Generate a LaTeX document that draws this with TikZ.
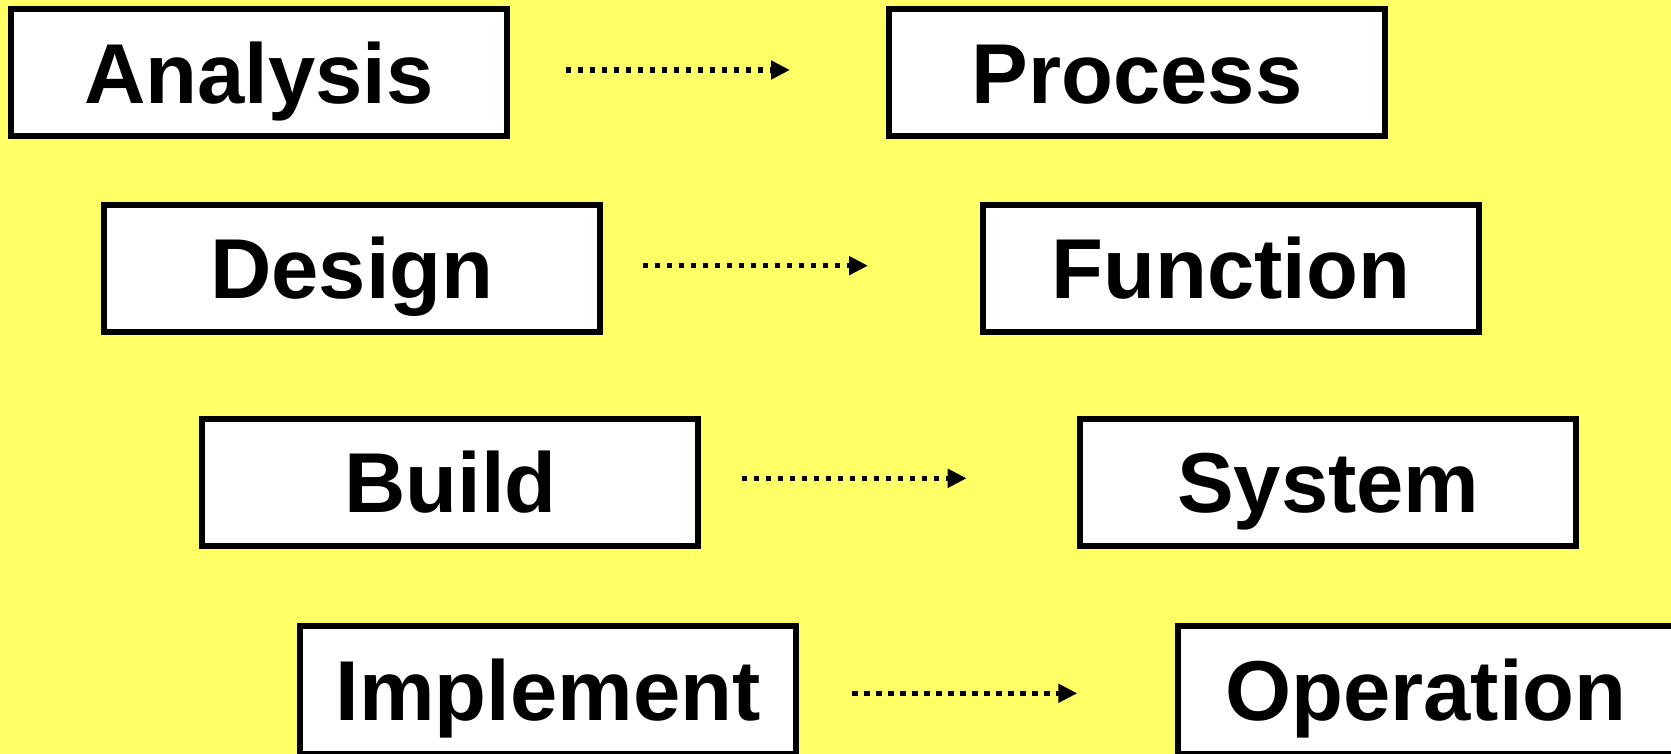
\documentclass[tikz,border=0pt]{standalone}
\usepackage{fontspec}
\setmainfont{Liberation Sans}
\usetikzlibrary{arrows.meta}
\definecolor{bgyellow}{HTML}{FFFF66}
\begin{document}
\begin{tikzpicture}[x=0.5pt,y=-0.5pt,
  stagebox/.style={draw=black, line width=3pt, fill=white, inner sep=0pt,
    minimum width=248pt, minimum height=63.75pt,
    font=\fontsize{42.5pt}{50pt}\selectfont\bfseries,
    text height=30.4pt, text depth=0pt},
  flow/.style={line width=2.6pt, dash pattern=on 2.6pt off 3.4pt,
    -{Triangle[length=9.5pt,width=9pt]}}]
  % canvas
  \fill[bgyellow] (0,0) rectangle (1671,754);
  \useasboundingbox (0,0) rectangle (1671,754);
  \clip (0,0) rectangle (1671,754);
  % left column
  \node[stagebox] (ana) at (259,72.7)   {Analysis};
  \node[stagebox] (des) at (352,268.3)  {Design};
  \node[stagebox] (bld) at (450.3,482.5) {Build};
  \node[stagebox] (imp) at (548.3,690)  {Implement};
  % right column
  \node[stagebox] (pro) at (1137,72.7)   {Process};
  \node[stagebox] (fun) at (1231,268.3)  {Function};
  \node[stagebox] (sys) at (1328.3,482.5) {System};
  \node[stagebox] (ope) at (1426,690)    {Operation};
  % arrow ends
  \coordinate (a1s) at (566,70);     \coordinate (a1e) at (790,70);
  \coordinate (a2s) at (643,265.7);  \coordinate (a2e) at (868,265.7);
  \coordinate (a3s) at (741.7,478.3);\coordinate (a3e) at (966.7,478.3);
  \coordinate (a4s) at (852.3,693.3);\coordinate (a4e) at (1077.3,693.3);
  \draw[flow] (a1s) -- (a1e);
  \draw[flow] (a2s) -- (a2e);
  \draw[flow] (a3s) -- (a3e);
  \draw[flow] (a4s) -- (a4e);
\end{tikzpicture}
\end{document}
